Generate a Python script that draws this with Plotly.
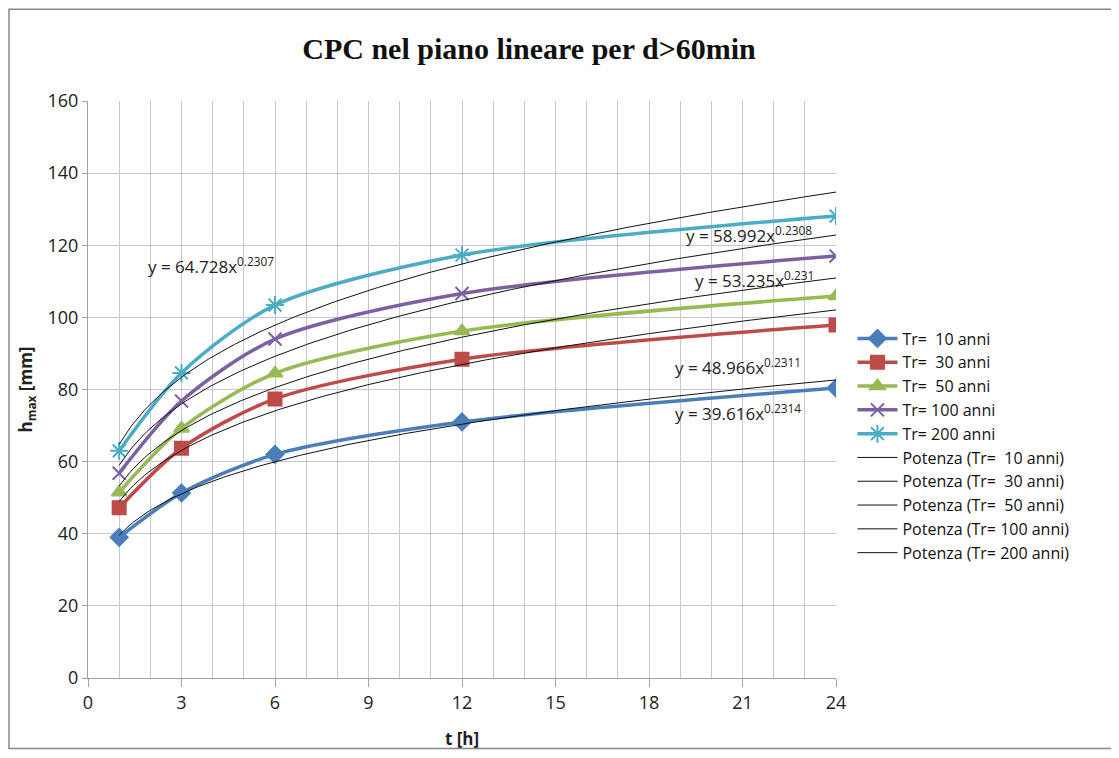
import numpy as np
import plotly.graph_objects as go

t_hours = [1, 3, 6, 12, 24]
series_names = ["Tr=  10 anni", "Tr=  30 anni", "Tr=  50 anni", "Tr= 100 anni", "Tr= 200 anni"]
h_tr10 = [39.0, 51.3, 62.0, 71.0, 80.4]
h_tr30 = [47.2, 63.7, 77.4, 88.4, 97.9]
h_tr50 = [51.5, 69.2, 84.5, 96.2, 105.9]
h_tr100 = [56.8, 76.8, 94.0, 106.6, 117.0]
h_tr200 = [63.0, 84.6, 103.4, 117.3, 128.1]

fit_a = [39.616, 48.966, 53.235, 58.992, 64.728]
fit_b = [0.2314, 0.2311, 0.231, 0.2308, 0.2307]
fit_labels = ["y = 39.616x<sup>0.2314</sup>", "y = 48.966x<sup>0.2311</sup>",
              "y = 53.235x<sup>0.231</sup>", "y = 58.992x<sup>0.2308</sup>",
              "y = 64.728x<sup>0.2307</sup>"]
label_x = [20.85, 20.85, 21.4, 21.2, 3.95]
label_y = [73.5, 86.5, 110.4, 122.9, 114.3]

colors = ["#4a7ebb", "#be4b48", "#98b954", "#7d60a0", "#4bacc6"]
symbols = ["diamond", "square", "triangle-up", "x-thin-open", "asterisk-open"]
msizes = [13, 13, 13, 13, 15]

FONT = "Open Sans"
fig = go.Figure()
all_h = [h_tr10, h_tr30, h_tr50, h_tr100, h_tr200]
for name, h, c, s, ms in zip(series_names, all_h, colors, symbols, msizes):
    fig.add_trace(go.Scatter(
        x=t_hours, y=h, name=name, mode="lines+markers",
        line=dict(color=c, width=3.5, shape="spline", smoothing=0.8),
        marker=dict(symbol=s, size=ms, color=c, line=dict(color=c, width=2)),
    ))

xs = np.linspace(min(t_hours), max(t_hours), 200)
for name, a, b in zip(series_names, fit_a, fit_b):
    fig.add_trace(go.Scatter(
        x=xs, y=a * xs ** b, name="Potenza (" + name + ")", mode="lines",
        line=dict(color="#111111", width=1),
    ))

for txt, lx, ly in zip(fit_labels, label_x, label_y):
    fig.add_annotation(x=lx, y=ly, text=txt, showarrow=False,
                       font=dict(family=FONT, size=17, color="#222222"))

grid = "#c3c6dc"
fig.update_layout(
    width=1103, height=742,
    paper_bgcolor="white", plot_bgcolor="white",
    margin=dict(l=80, r=275, t=93, b=72, autoexpand=False),
    title=dict(text="<b>CPC nel piano lineare per d>60min</b>", x=(529 - 8) / 1103, xanchor="center",
               xref="container", y=1 - (48 - 8) / 742, yanchor="middle", yref="container",
               font=dict(family="Liberation Serif", size=30, color="#111111")),
    font=dict(family=FONT, size=16, color="#222222"),
    legend=dict(x=1.022, y=0.402, xanchor="left", yanchor="middle",
                font=dict(family=FONT, size=16, color="#111111"),
                tracegroupgap=0, itemwidth=40, bgcolor="rgba(0,0,0,0)"),
    xaxis=dict(range=[0, 24], tickmode="array", tickvals=list(range(0, 25, 3)),
               showgrid=True, gridcolor=grid, gridwidth=1, zeroline=False,
               showline=True, linecolor="#9a9fc0", linewidth=1, automargin=False,
               ticks="outside", ticklen=8, tickcolor="#9a9fc0",
               minor=dict(tickvals=list(range(0, 25)), showgrid=True, gridcolor=grid, gridwidth=1),
               title=dict(text="<b>t [h]</b>", font=dict(family=FONT, size=17), standoff=20),
               tickfont=dict(family=FONT, size=18)),
    yaxis=dict(range=[0, 160], dtick=20, showgrid=True, gridcolor=grid, gridwidth=1,
               zeroline=False, showline=True, linecolor="#9a9fc0", linewidth=1, automargin=False,
               ticks="outside", ticklen=5, tickcolor="#9a9fc0",
               title=dict(text="<b>h<sub>max</sub> [mm]</b>", font=dict(family=FONT, size=17), standoff=10),
               tickfont=dict(family=FONT, size=18)),
    shapes=[dict(type="rect", xref="paper", yref="paper", x0=-0.1056, x1=1.5, y0=-0.122, y1=1.159,
                 line=dict(color="#888888", width=1.5), fillcolor="rgba(0,0,0,0)", layer="below")],
)

fig.write_html("out.html")
